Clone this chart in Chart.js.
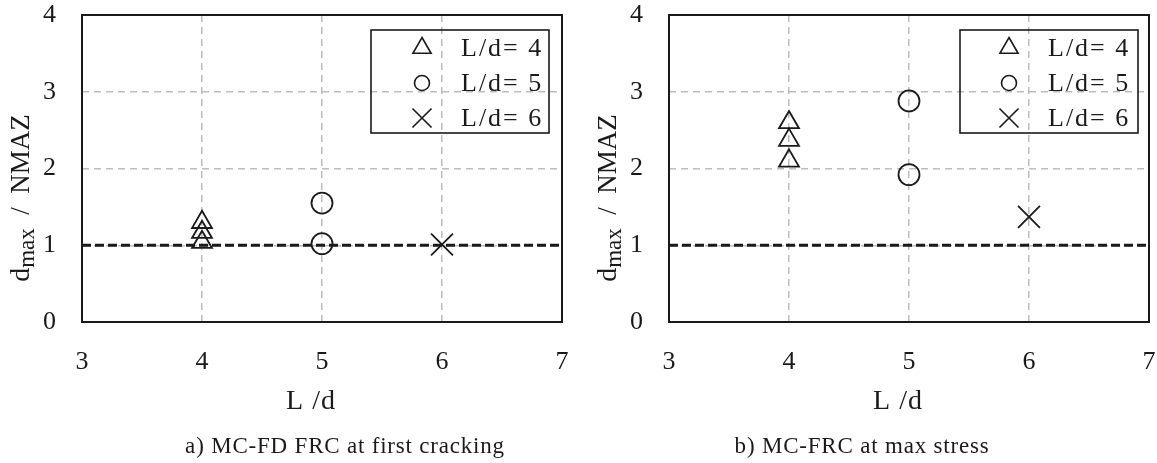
<!DOCTYPE html>
<html>
<head>
<meta charset="utf-8">
<script src="https://cdn.jsdelivr.net/npm/chart.js@4.4.1/dist/chart.umd.min.js"></script>
<style>
  html, body { margin: 0; padding: 0; background: #fff; }
  #wrap { position: relative; width: 1157px; height: 463px; overflow: hidden; }
  .cell { position: absolute; top: 0; }
  #cellA { left: 0; }
  #cellB { left: 580px; }
</style>
</head>
<body>
<div id="wrap">
  <div class="cell" id="cellA"><canvas id="chartA" width="580" height="463"></canvas></div>
  <div class="cell" id="cellB"><canvas id="chartB" width="577" height="463"></canvas></div>
</div>
<script>
// ---- data ----
const seriesLabels = ['L/d= 4', 'L/d= 5', 'L/d= 6']
const seriesX      = [4, 5, 6]

// a) first cracking
const crackL4 = [1.04, 1.17, 1.30]
const crackL5 = [1.02, 1.55]
const crackL6 = [1.01]

// b) max stress
const stressL4 = [2.10, 2.37, 2.60]
const stressL5 = [1.92, 2.88]
const stressL6 = [1.37]

// dashed reference line dmax/NMAZ = 1
const refX = [3, 7]
const refY = [1, 1]

const xTicks = [3, 4, 5, 6, 7]
const yTicks = [0, 1, 2, 3, 4]

const captions = ['a) MC-FD FRC at first cracking', 'b) MC-FRC at max stress']

// ---- styling ----
const FONT = '"Liberation Serif", "Times New Roman", serif'
const INK  = '#1a1a1a'
const GRID = '#bdbdbd'

const markerStyle = [
  { pointStyle: 'triangle', radius: 11.5, legendRadius: 10.5 },
  { pointStyle: 'circle',   radius: 10.5, legendRadius: 7.5 },
  { pointStyle: 'crossRot', radius: 15.5, legendRadius: 13.5 },
]

function _pts(x, ys) { return ys.map(y => ({ x, y })) }

function _datasets(groups) {
  const sets = groups.map((ys, i) => ({
    label: seriesLabels[i],
    data: _pts(seriesX[i], ys),
    pointStyle: markerStyle[i].pointStyle,
    pointRadius: markerStyle[i].radius,
    pointHoverRadius: markerStyle[i].radius,
    pointBorderWidth: 1.8,
    borderColor: INK,
    backgroundColor: 'rgba(0,0,0,0)',
    showLine: false,
  }))
  sets.unshift({
    label: 'ref',
    isRef: true,
    data: refX.map((x, i) => ({ x, y: refY[i] })),
    showLine: true,
    borderColor: INK,
    borderWidth: 3,
    borderDash: [9, 4],
    pointRadius: 0,
    fill: false,
  })
  return sets
}

// text, frame box and legend drawn on the canvas
const decor = {
  id: 'decor',
  afterDatasetsDraw(chart, args, o) {
    const { ctx, chartArea: a } = chart
    ctx.save()

    // full frame
    ctx.strokeStyle = INK
    ctx.lineWidth = 2
    ctx.setLineDash([])
    ctx.strokeRect(a.left, a.top, a.right - a.left, a.bottom - a.top)

    // legend box
    const bw = 178
    const bx = a.right - o.legendInset - bw
    const by = a.top + 15
    ctx.lineWidth = 1.6
    ctx.strokeRect(bx, by, bw, 103)
    const sets = chart.data.datasets.filter(d => !d.isRef)
    sets.forEach((d, i) => {
      const ry = by + 18 + i * 35
      ctx.lineWidth = 1.6
      ctx.strokeStyle = INK
      ctx.fillStyle = 'rgba(0,0,0,0)'
      if (Chart.helpers && Chart.helpers.drawPoint) {
        Chart.helpers.drawPoint(ctx, {
          pointStyle: d.pointStyle, radius: markerStyle[i].legendRadius,
          rotation: 0, borderWidth: 1.6,
        }, a.right - 140, ry)
      }
      ctx.fillStyle = INK
      ctx.font = '26px ' + FONT
      ctx.letterSpacing = '2px'
      ctx.textAlign = 'left'
      ctx.textBaseline = 'middle'
      ctx.fillText(d.label, a.right - 101, ry + 1)
      ctx.letterSpacing = '0px'
    })

    // x title
    ctx.fillStyle = INK
    ctx.textAlign = 'center'
    ctx.textBaseline = 'middle'
    ctx.font = '28px ' + FONT
    ctx.letterSpacing = '1px'
    ctx.fillText('L /d', (a.left + a.right) / 2 - 11, 402)

    // caption
    ctx.font = '23px ' + FONT
    ctx.letterSpacing = '0.8px'
    ctx.fillText(o.caption, a.left + o.captionShift, 447)
    ctx.letterSpacing = '0px'

    // y title with subscript
    ctx.translate(a.left - 62, 198)
    ctx.rotate(-Math.PI / 2)
    const parts = [
      { t: 'd', f: 28, dy: 0 },
      { t: 'max', f: 23, dy: 5 },
      { t: '  /  ', f: 27, dy: 0 },
      { t: 'NMAZ', f: 27, dy: 0 },
    ]
    let total = 0
    parts.forEach(p => { ctx.font = p.f + 'px ' + FONT; p.w = ctx.measureText(p.t).width; total += p.w })
    let cx = -total / 2
    ctx.textAlign = 'left'
    ctx.textBaseline = 'alphabetic'
    parts.forEach(p => {
      ctx.font = p.f + 'px ' + FONT
      ctx.fillText(p.t, cx, 9 + p.dy)
      cx += p.w
    })
    ctx.restore()
  }
}

function _makeChart(id, groups, opt) {
  const el = document.getElementById(id)
  return new Chart(el.getContext('2d'), {
    type: 'scatter',
    data: { datasets: _datasets(groups) },
    plugins: [decor],
    options: {
      responsive: false,
      animation: false,
      devicePixelRatio: 1,
      layout: { autoPadding: false, padding: { left: 0, right: opt.padRight, top: 15, bottom: 0 } },
      plugins: {
        legend: { display: false },
        tooltip: { enabled: false },
        decor: opt,
      },
      scales: {
        x: {
          type: 'linear', min: xTicks[0], max: xTicks[xTicks.length - 1],
          afterBuildTicks: s => { s.ticks = xTicks.map(v => ({ value: v })) },
          afterFit: s => { s.height = 141; s.paddingLeft = 0; s.paddingRight = 0 },
          ticks: { color: INK, font: { family: FONT, size: 26 }, padding: 0 },
          grid: { color: GRID, lineWidth: 1.5, drawTicks: true, tickLength: 25, tickColor: 'rgba(0,0,0,0)' },
          border: { display: false, dash: [7, 5] },
        },
        y: {
          type: 'linear', min: yTicks[0], max: yTicks[yTicks.length - 1],
          afterBuildTicks: s => { s.ticks = yTicks.map(v => ({ value: v })) },
          afterFit: s => { s.width = opt.yWidth; s.paddingTop = 0; s.paddingBottom = 0 },
          ticks: { color: INK, font: { family: FONT, size: 26 }, padding: 0 },
          grid: { color: GRID, lineWidth: 1.5, drawTicks: true, tickLength: 26, tickColor: 'rgba(0,0,0,0)' },
          border: { display: false, dash: [7, 5] },
        },
      },
    },
  })
}

_makeChart('chartA', [crackL4, crackL5, crackL6], {
  padRight: 18, yWidth: 82, legendInset: 13, caption: captions[0], captionShift: 263,
})
_makeChart('chartB', [stressL4, stressL5, stressL6], {
  padRight: 8, yWidth: 89, legendInset: 11, caption: captions[1], captionShift: 193,
})
</script>
</body>
</html>
